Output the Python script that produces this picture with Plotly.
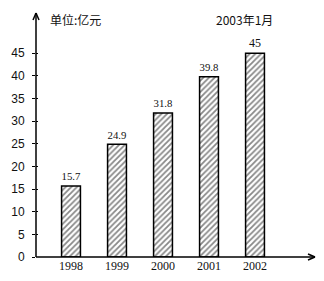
import plotly.graph_objects as go

years = ["1998", "1999", "2000", "2001", "2002"]
values = [15.7, 24.9, 31.8, 39.8, 45]
value_labels = ["15.7", "24.9", "31.8", "39.8", "45"]
y_ticks = [0, 5, 10, 15, 20, 25, 30, 35, 40, 45]

x_pos = list(range(len(years)))

PW, PH = 279, 244  # plot area size in px

fig = go.Figure()
fig.add_trace(go.Bar(
    x=x_pos, y=values, width=0.41,
    marker=dict(color="white", line=dict(color="black", width=1.5),
                pattern=dict(shape="/", fgcolor="#111", bgcolor="white", size=4, solidity=0.45)),
    text=value_labels, textposition="outside", cliponaxis=False,
    textfont=dict(family="Liberation Serif", size=12, color="#111"),
))

serif = dict(family="Liberation Serif", size=12, color="#111")
fig.update_layout(
    width=324, height=281,
    margin=dict(l=36, r=9, t=13, b=24, autoexpand=False),
    plot_bgcolor="white", paper_bgcolor="white",
    showlegend=False,
    xaxis=dict(range=[-0.761, 5.304], tickvals=x_pos, ticktext=years, automargin=False,
               showline=False, showgrid=False,
               zeroline=False, ticks="", tickfont=serif),
    yaxis=dict(range=[0, 53.9], tickvals=y_ticks, showline=False,
               showgrid=False, zeroline=False, ticks="outside", ticklen=3,
               tickcolor="black", ticklabelstandoff=5, automargin=False,
               tickfont=dict(family="Liberation Sans", size=12, color="#111")),
    yaxis2=dict(range=[0, 53.9], overlaying="y", tickvals=y_ticks[1:], showticklabels=False,
                ticks="inside", ticklen=2, tickcolor="black", showgrid=False, zeroline=False,
                showline=False, automargin=False),
)
fig.add_trace(go.Scatter(x=[None], y=[None], yaxis="y2", showlegend=False))

ax_line = dict(color="black", width=1.5)
fig.add_shape(type="line", xref="paper", yref="paper", x0=0, y0=0, x1=0, y1=1, line=ax_line, layer="above")
fig.add_shape(type="line", xref="paper", yref="paper", x0=0, y0=0, x1=1, y1=0, line=ax_line, layer="above")

# arrowheads as short line segments in paper coordinates
wing = dict(color="black", width=1.5)
for dx in (-3, 3):
    fig.add_shape(type="line", xref="paper", yref="paper", x0=0, y0=1,
                  x1=dx / PW, y1=1 - 7 / PH, line=wing, layer="above")
for dy in (-3, 3):
    fig.add_shape(type="line", xref="paper", yref="paper", x0=1, y0=0,
                  x1=1 - 7 / PW, y1=dy / PH, line=wing, layer="above")

cjk = dict(family="Noto Sans CJK SC", size=12, color="#111")
fig.add_annotation(xref="paper", yref="paper", x=(48-36)/PW, y=(257-20)/PH, xanchor="left", yanchor="middle",
                   text="单位:亿元", showarrow=False, font=cjk)
fig.add_annotation(xref="paper", yref="paper", x=(214-36)/PW, y=(257-20)/PH, xanchor="left", yanchor="middle",
                   text="2003年1月", showarrow=False, font=cjk)

fig.write_html("out.html")
